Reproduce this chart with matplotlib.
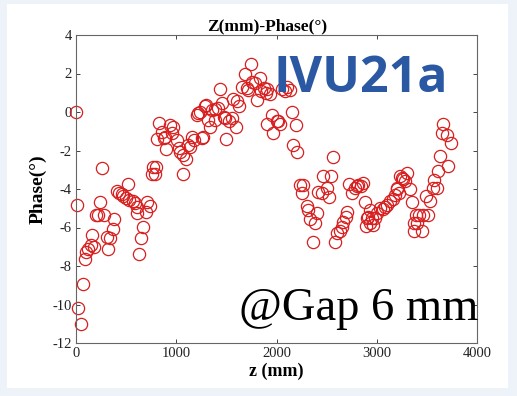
import matplotlib
matplotlib.use("Agg")
import matplotlib.pyplot as plt
from matplotlib.patches import Rectangle

z_mm = [0, 10, 23, 50, 73, 90, 100, 123, 150, 163, 183, 200, 223, 240, 263, 283, 306, 323, 340, 366,
        382, 406, 433, 456, 473, 499, 522, 532, 566, 589, 606, 612, 632, 649, 672, 698, 712, 738, 755, 771,
        788, 795, 805, 831, 855, 878, 888, 898, 938, 955, 971, 1004, 1030, 1037, 1064, 1070, 1097, 1120, 1137, 1154,
        1177, 1204, 1220, 1237, 1253, 1263, 1287, 1297, 1320, 1337, 1354, 1387, 1387, 1420, 1437, 1453, 1477, 1487, 1496, 1529,
        1553, 1570, 1596, 1610, 1629, 1653, 1686, 1703, 1719, 1743, 1753, 1786, 1803, 1836, 1849, 1876, 1896, 1903, 1910, 1936,
        1953, 1969, 2002, 2019, 2035, 2050, 2080, 2101, 2130, 2152, 2168, 2194, 2208,
        2234, 2251, 2261, 2301, 2317, 2334, 2361, 2384, 2401, 2417, 2451, 2467, 2500, 2527, 2540, 2567, 2583, 2606, 2633, 2650,
        2666, 2693, 2706, 2726, 2750, 2783, 2800, 2817, 2843, 2866, 2883, 2893, 2900, 2917, 2933, 2933, 2950, 2966, 2983, 2999,
        3032, 3059, 3082, 3105, 3132, 3165, 3182, 3198, 3205, 3225, 3232, 3248, 3265, 3282, 3305, 3332, 3348, 3371, 3371, 3391,
        3405, 3425, 3448, 3465, 3491, 3514, 3531, 3558, 3571, 3598, 3614, 3631, 3648, 3658, 3698, 3714, 3738]
phase_deg = [0.0, -4.83, -10.2, -11.0, -8.94, -7.64, -7.26, -7.1, -6.9, -6.4, -7.0, -5.35, -5.35, -4.7, -2.9, -5.35, -6.48, -7.1, -6.56, -6.1,
             -5.58, -4.09, -4.19, -4.26, -4.36, -4.48, -3.76, -4.57, -4.6, -4.71, -4.95, -5.23, -7.39, -6.56, -5.99, -5.18, -4.66, -4.87, -3.23, -2.85,
             -3.2, -2.87, -1.42, -0.56, -1.02, -1.37, -1.31, -1.94, -0.68, -1.11, -0.76, -1.45, -1.89, -2.06, -3.22, -2.23, -2.46, -1.71, -1.8, -1.31,
             -1.45, -0.16, -0.07, 0.02, -1.37, -1.31, 0.31, 0.37, -0.42, -0.76, 0.1, 0.14, -0.42, 0.19, 1.18, 0.45, -0.24, -0.33, -1.42, -0.45,
             -0.33, 0.65, -0.8, 0.58, 0.31, 1.28, 1.97, 1.23, 1.14, 2.49, 1.57, 1.49, 0.6, 1.75, 1.1, 1.23, 1.0, 1.2, -0.62, 0.95,
             -0.13, -1.09, -0.45, -0.45, -0.6, 1.2, 1.1, 1.3, 1.15, 0.02, -1.71, -0.68, -2.06,
             -3.79, -4.19, -3.79, -4.88, -5.09, -5.57, -6.74, -5.78, -5.26, -4.13, -4.22, -3.32, -3.96, -4.39, -3.32, -2.35, -6.74, -6.3, -6.17, -5.96,
             -5.7, -5.44, -5.18, -3.74, -4.23, -3.96, -3.83, -3.79, -3.84, -3.7, -4.65, -5.9, -5.52, -5.47, -5.09, -5.78, -5.52, -5.87, -5.5, -5.26,
             -5.0, -5.05, -4.92, -4.83, -4.6, -4.53, -4.31, -3.96, -4.02, -4.22, -3.32, -3.44, -3.5, -3.6, -3.15, -4.0, -4.66, -5.78, -6.17, -5.35,
             -5.78, -5.35, -6.17, -5.35, -4.36, -5.35, -4.6, -3.94, -3.54, -3.94, -3.05, -2.31, -1.07, -0.62, -1.19, -2.83, -1.63]

x_ticks = [0, 1000, 2000, 3000, 4000]
y_ticks = [-12, -10, -8, -6, -4, -2, 0, 2, 4]

W, H = 517, 396
fig = plt.figure(figsize=(W / 100, H / 100), dpi=100, facecolor="#eef3fa")
fig.patches.append(Rectangle((7 / W, 1 - 388 / H), (508 - 7) / W, (388 - 4) / H,
                             transform=fig.transFigure, facecolor="white", edgecolor="none", zorder=-10))

ax = fig.add_axes([76 / W, 1 - 343 / H, (477 - 76) / W, (343 - 35) / H])
ax.set_zorder(1)
ax.plot(z_mm, phase_deg, linestyle="none", marker="o", markersize=8.8,
        markerfacecolor="none", markeredgecolor="#d81e1e", markeredgewidth=0.9, clip_on=False)

ax.set_xlim(0, 4000)
ax.set_ylim(-12, 4)
ax.set_xticks(x_ticks)
ax.set_yticks(y_ticks)
serif = "Liberation Serif"
ax.set_xticklabels([str(t) for t in x_ticks], family=serif, fontsize=10.5)
ax.set_yticklabels([str(t) for t in y_ticks], family=serif, fontsize=10.5)
ax.tick_params(direction="in", top=True, right=True, length=3, width=0.7, colors="#444444", pad=3)
for lab in ax.get_xticklabels() + ax.get_yticklabels():
    lab.set_color("#222222")
for s in ax.spines.values():
    s.set_color("#666666")
    s.set_linewidth(0.8)

ax.set_title("Z(mm)-Phase(°)", family=serif, fontweight="bold", fontsize=12.5, pad=3, x=0.477)
ax.set_xlabel("z (mm)", family=serif, fontweight="bold", fontsize=13, labelpad=2)
ax.set_ylabel("Phase(°)", family=serif, fontweight="bold", fontsize=14, labelpad=4)

ax.text(361 / W, 1 - 79 / H, "IVU21a", transform=fig.transFigure, ha="center", va="center",
        family="Open Sans", fontweight="bold", fontsize=36, color="#2b58a3")
ax.text(358.5 / W, 1 - 320 / H, "@Gap 6 mm", transform=fig.transFigure, ha="center", va="baseline",
        family=serif, fontsize=33.5, color="black")

fig.savefig("out.png", dpi=100, facecolor=fig.get_facecolor())
